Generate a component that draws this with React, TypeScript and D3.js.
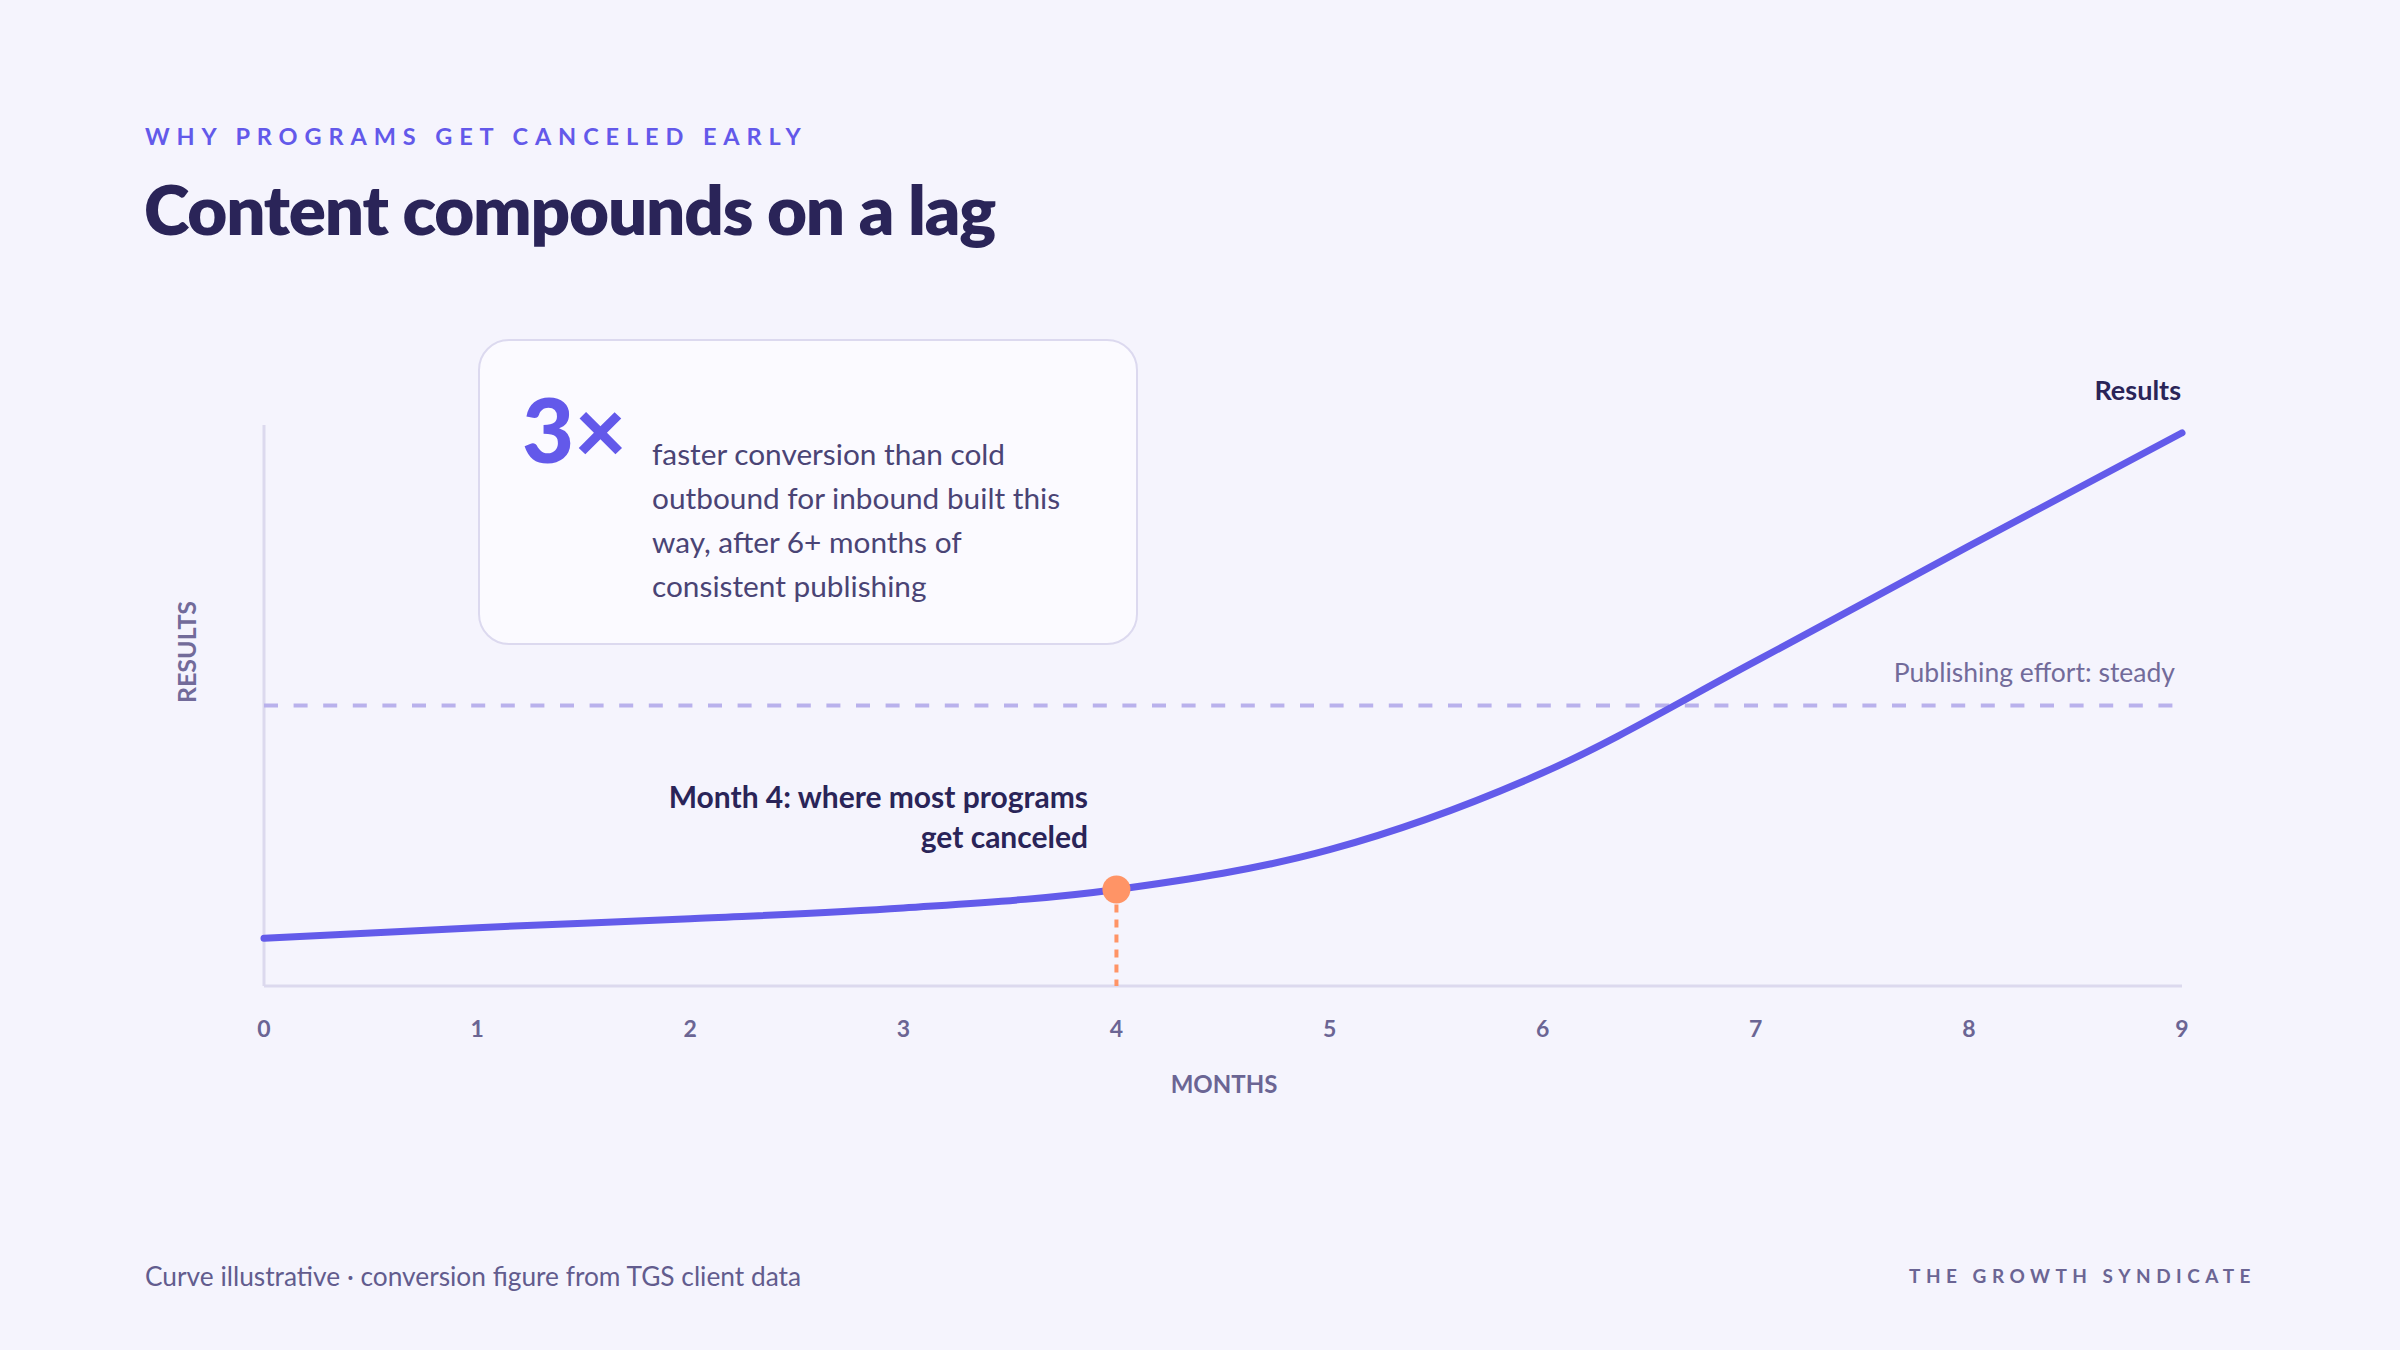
import React from "react";
import * as d3 from "d3";

const months = [0, 1, 2, 3, 4, 5, 6, 7, 8, 9];
const results = [8.5, 10.4, 12.0, 13.9, 17.2, 24.3, 38.0, 57.9, 78.4, 98.6];
const effortLevel = 50;
const cancelMonth = 4;
const tickLabels = ["0", "1", "2", "3", "4", "5", "6", "7", "8", "9"];
const cardLines = [
  "faster conversion than cold",
  "outbound for inbound built this",
  "way, after 6+ months of",
  "consistent publishing",
];
const annotationLines = ["Month 4: where most programs", "get canceled"];

const W = 2400;
const H = 1350;
const FONT = "Lato, 'Noto Sans', sans-serif";

export default function App() {
  const x = d3.scaleLinear().domain([0, 9]).range([264, 2182]);
  const y = d3.scaleLinear().domain([0, 100]).range([986, 425]);

  const line = d3
    .line<number>()
    .x((_, i) => x(months[i]))
    .y((d) => y(d))
    .curve(d3.curveMonotoneX);

  const cancelIdx = months.indexOf(cancelMonth);
  const cx = x(cancelMonth);
  const cy = y(results[cancelIdx]);

  return (
    <svg
      width={W}
      height={H}
      viewBox={`0 0 ${W} ${H}`}
      style={{ position: "absolute", left: 0, top: 0, display: "block" }}
    >
      <rect x={0} y={0} width={W} height={H} fill="#f5f4fd" />

      <text x={145} y={145} fontFamily={FONT} fontWeight={700} fontSize={23.5} letterSpacing={6.9} fill="#6359ea">
        WHY PROGRAMS GET CANCELED EARLY
      </text>
      <text x={144} y={235} fontFamily={FONT} fontWeight={800} fontSize={69} fill="#2a2458" letterSpacing={-1.2}>
        Content compounds on a lag
      </text>

      {/* axes */}
      <line x1={x(0)} x2={x(0)} y1={y(100)} y2={y(0)} stroke="#dcd9ee" strokeWidth={3} />
      <line x1={x(0)} x2={x(9)} y1={y(0)} y2={y(0)} stroke="#dcd9ee" strokeWidth={3} />

      {months.map((m, i) => (
        <text
          key={m}
          x={x(m)}
          y={1037}
          textAnchor="middle"
          fontFamily={FONT}
          fontWeight={700}
          fontSize={23}
          fill="#6b6594"
        >
          {tickLabels[i]}
        </text>
      ))}
      <text x={1224} y={1093} textAnchor="middle" fontFamily={FONT} fontWeight={700} fontSize={24} fill="#6b6594">
        MONTHS
      </text>
      <text
        transform={`translate(196,652) rotate(-90)`}
        textAnchor="middle"
        fontFamily={FONT}
        fontWeight={700}
        fontSize={25}
        fill="#726b9a"
      >
        RESULTS
      </text>

      {/* effort line */}
      <line
        x1={x(0)}
        x2={x(9)}
        y1={y(effortLevel)}
        y2={y(effortLevel)}
        stroke="#b9b1ec"
        strokeWidth={4}
        strokeDasharray="14 15.6"
      />
      <text x={2175} y={682} textAnchor="end" fontFamily={FONT} fontSize={26.5} fill="#726b9a">
        Publishing effort: steady
      </text>

      {/* cancel marker */}
      <line
        x1={cx}
        x2={cx}
        y1={cy}
        y2={y(0)}
        stroke="#ff9466"
        strokeWidth={4}
        strokeDasharray="8 7"
      />

      <path d={line(results) || ""} fill="none" stroke="#635bea" strokeWidth={7} strokeLinecap="round" />
      <circle cx={cx} cy={cy} r={14} fill="#ff9466" />

      {annotationLines.map((t, i) => (
        <text
          key={i}
          x={1088}
          y={808 + i * 40}
          textAnchor="end"
          fontFamily={FONT}
          fontWeight={700}
          fontSize={30}
          fill="#2a2458"
        >
          {t}
        </text>
      ))}

      <text x={2181} y={400} textAnchor="end" fontFamily={FONT} fontWeight={700} fontSize={27} fill="#2a2458">
        Results
      </text>

      {/* card */}
      <rect x={479} y={340} width={658} height={304} rx={30} fill="#fbfaff" stroke="#dcd9ef" strokeWidth={2} />
      <text x={522} y={463} fontFamily={FONT} fontWeight={900} fontSize={90} fill="#6359ea">
        3×
      </text>
      {cardLines.map((t, i) => (
        <text key={i} x={652} y={465 + i * 44} fontFamily={FONT} fontSize={29.8} fill="#4a4475">
          {t}
        </text>
      ))}

      {/* footer */}
      <text x={145} y={1286} fontFamily={FONT} fontSize={26.3} fill="#625c8e">
        Curve illustrative · conversion figure from TGS client data
      </text>
      <text
        x={2256}
        y={1283}
        textAnchor="end"
        fontFamily={FONT}
        fontWeight={700}
        fontSize={19}
        letterSpacing={5.5}
        fill="#6b6594"
      >
        THE GROWTH SYNDICATE
      </text>
    </svg>
  );
}
